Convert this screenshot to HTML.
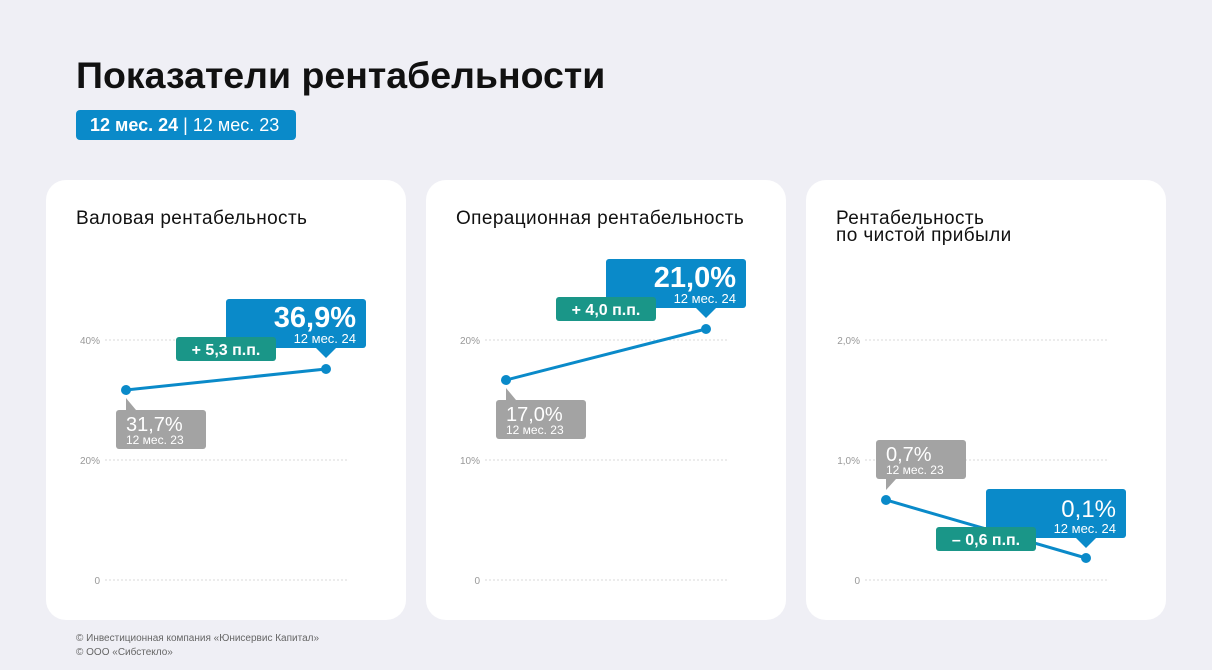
<!DOCTYPE html>
<html><head><meta charset="utf-8"><style>
html,body{margin:0;padding:0;background:#efeff5;}
svg{display:block;font-family:"Liberation Sans",sans-serif;}
</style></head><body>
<svg width="1212" height="670" viewBox="0 0 1212 670" xmlns="http://www.w3.org/2000/svg">
<rect width="1212" height="670" fill="#efeff5"/>
<text x="76" y="88" font-size="37.5" font-weight="bold" fill="#111">Показатели рентабельности</text>
<rect x="76" y="110" width="220" height="30" rx="4" fill="#0a8ac9"/>
<text x="90" y="131" font-size="18" fill="#fff"><tspan font-weight="bold">12 мес. 24</tspan> | 12 мес. 23</text>

<g id="cards">
<rect x="46" y="180" width="360" height="440" rx="20" fill="#fff"/>
<rect x="426" y="180" width="360" height="440" rx="20" fill="#fff"/>
<rect x="806" y="180" width="360" height="440" rx="20" fill="#fff"/>
</g>
<g font-size="19" fill="#111" letter-spacing="0.4">
<text x="76" y="224">Валовая рентабельность</text>
<text x="456" y="224">Операционная рентабельность</text>
<text x="836" y="224">Рентабельность</text>
<text x="836" y="241">по чистой прибыли</text>
</g>

<g stroke="#dadada" stroke-width="1" stroke-dasharray="2,2">
<line x1="105" y1="340" x2="347" y2="340"/><line x1="105" y1="460" x2="347" y2="460"/><line x1="105" y1="580" x2="347" y2="580"/>
<line x1="485" y1="340" x2="727" y2="340"/><line x1="485" y1="460" x2="727" y2="460"/><line x1="485" y1="580" x2="727" y2="580"/>
<line x1="865" y1="340" x2="1107" y2="340"/><line x1="865" y1="460" x2="1107" y2="460"/><line x1="865" y1="580" x2="1107" y2="580"/>
</g>
<g font-size="10" fill="#999" text-anchor="end">
<text x="100" y="344">40%</text><text x="100" y="464">20%</text><text x="100" y="584">0</text>
<text x="480" y="344">20%</text><text x="480" y="464">10%</text><text x="480" y="584">0</text>
<text x="860" y="344">2,0%</text><text x="860" y="464">1,0%</text><text x="860" y="584">0</text>
</g>

<!-- Panel 1 -->
<path d="M126 398 L136 410 L126 410 Z" fill="#a3a3a3"/>
<rect x="116" y="410" width="90" height="39" rx="3" fill="#a3a3a3"/>
<text x="126" y="431" font-size="20" fill="#fff">31,7%</text>
<text x="126" y="444" font-size="12" fill="#fff">12 мес. 23</text>
<line x1="126" y1="390" x2="326" y2="369" stroke="#0a8ac9" stroke-width="3"/>
<circle cx="126" cy="390" r="5" fill="#0a8ac9"/><circle cx="326" cy="369" r="5" fill="#0a8ac9"/>
<rect x="226" y="299" width="140" height="49" rx="3" fill="#0a8ac9"/>
<path d="M316 348 L336 348 L326 358 Z" fill="#0a8ac9"/>
<text x="356" y="327" font-size="29" font-weight="bold" fill="#fff" text-anchor="end">36,9%</text>
<text x="356" y="343" font-size="13" fill="#fff" text-anchor="end">12 мес. 24</text>
<rect x="176" y="337" width="100" height="24" rx="3" fill="#1a9688"/>
<text x="226" y="355" font-size="16" font-weight="bold" fill="#fff" text-anchor="middle">+ 5,3 п.п.</text>

<!-- Panel 2 -->
<path d="M506 388 L516 400 L506 400 Z" fill="#a3a3a3"/>
<rect x="496" y="400" width="90" height="39" rx="3" fill="#a3a3a3"/>
<text x="506" y="421" font-size="20" fill="#fff">17,0%</text>
<text x="506" y="434" font-size="12" fill="#fff">12 мес. 23</text>
<line x1="506" y1="380" x2="706" y2="329" stroke="#0a8ac9" stroke-width="3"/>
<circle cx="506" cy="380" r="5" fill="#0a8ac9"/><circle cx="706" cy="329" r="5" fill="#0a8ac9"/>
<rect x="606" y="259" width="140" height="49" rx="3" fill="#0a8ac9"/>
<path d="M696 308 L716 308 L706 318 Z" fill="#0a8ac9"/>
<text x="736" y="287" font-size="29" font-weight="bold" fill="#fff" text-anchor="end">21,0%</text>
<text x="736" y="303" font-size="13" fill="#fff" text-anchor="end">12 мес. 24</text>
<rect x="556" y="297" width="100" height="24" rx="3" fill="#1a9688"/>
<text x="606" y="315" font-size="16" font-weight="bold" fill="#fff" text-anchor="middle">+ 4,0 п.п.</text>

<!-- Panel 3 -->
<line x1="886" y1="500" x2="1086" y2="558" stroke="#0a8ac9" stroke-width="3"/>
<circle cx="886" cy="500" r="5" fill="#0a8ac9"/><circle cx="1086" cy="558" r="5" fill="#0a8ac9"/>
<rect x="876" y="440" width="90" height="39" rx="3" fill="#a3a3a3"/>
<path d="M886 479 L896 479 L886 490 Z" fill="#a3a3a3"/>
<text x="886" y="461" font-size="20" fill="#fff">0,7%</text>
<text x="886" y="474" font-size="12" fill="#fff">12 мес. 23</text>
<rect x="986" y="489" width="140" height="49" rx="3" fill="#0a8ac9"/>
<path d="M1076 538 L1096 538 L1086 548 Z" fill="#0a8ac9"/>
<text x="1116" y="517" font-size="24" fill="#fff" text-anchor="end">0,1%</text>
<text x="1116" y="533" font-size="13" fill="#fff" text-anchor="end">12 мес. 24</text>
<rect x="936" y="527" width="100" height="24" rx="3" fill="#1a9688"/>
<text x="986" y="545" font-size="16" font-weight="bold" fill="#fff" text-anchor="middle">– 0,6 п.п.</text>

<g font-size="10" fill="#666">
<text x="76" y="641">© Инвестиционная компания «Юнисервис Капитал»</text>
<text x="76" y="655">© ООО «Сибстекло»</text>
</g>
</svg>
</body></html>
